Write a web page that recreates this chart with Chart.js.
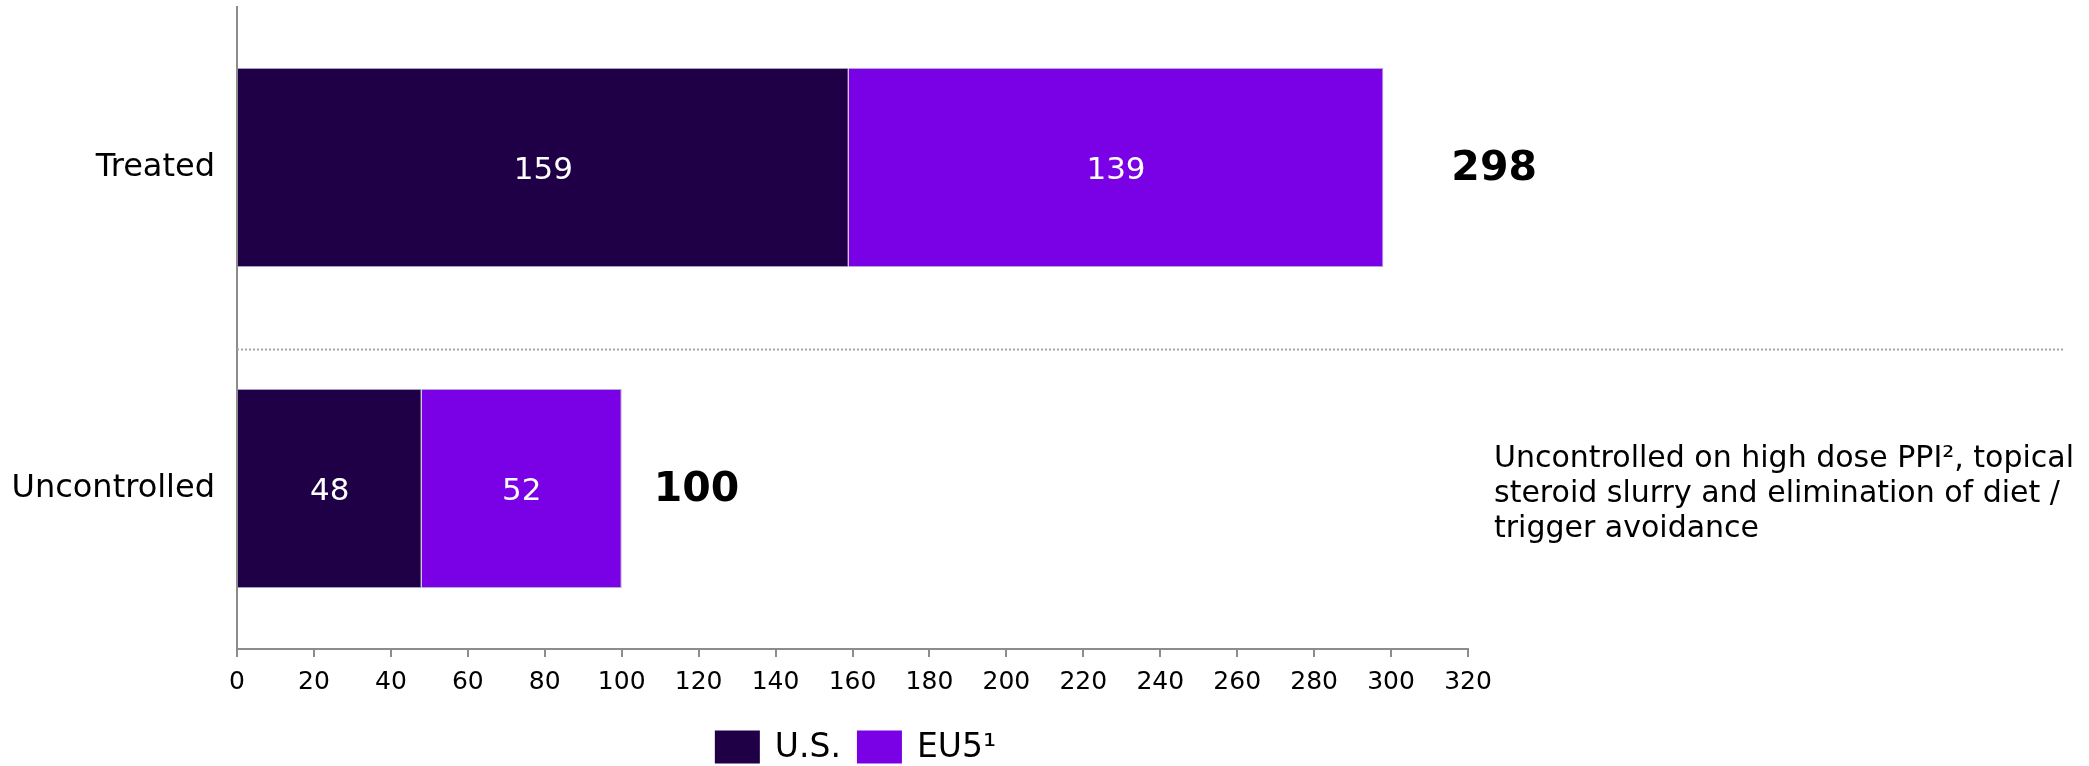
<!DOCTYPE html>
<html lang="en">
<head>
  <meta charset="UTF-8" />
  <title>Treated vs Uncontrolled</title>
  <script src="https://cdn.jsdelivr.net/npm/chart.js"></script>
  <style>
    body {
      margin: 0;
      background: #ffffff;
    }
    #wrap {
      width: 2089px;
      height: 766px;
    }
  </style>
</head>
<body>
  <div id="wrap">
    <canvas id="chart" width="2089" height="766"></canvas>
  </div>

  <script>
    // Data
    const categories = ['Treated', 'Uncontrolled'];
    const usValues = [159, 48];
    const eu5Values = [139, 52];
    const totals = [298, 100];
    const seriesLabels = ['U.S.', 'EU5\u00b9'];
    const axisMax = 320;
    const axisStep = 20;
    const noteLines = [
      'Uncontrolled on high dose PPI\u00b2, topical',
      'steroid slurry and elimination of diet /',
      'trigger avoidance'
    ];

    const FONT = '"DejaVu Sans", Verdana, sans-serif';
    const colors = ['#1f0047', '#7a00e6'];

    // numbers inside the segments, totals, separator, note and legend
    const extras = {
      id: 'extras',
      afterDatasetsDraw(chart, args, opts) {
        const ctx = chart.ctx;
        const x = chart.scales.x;
        const y = chart.scales.y;
        const area = chart.chartArea;
        ctx.save();

        // segment values
        ctx.font = '31px ' + FONT;
        ctx.fillStyle = '#ffffff';
        ctx.textAlign = 'center';
        ctx.textBaseline = 'middle';
        chart.data.datasets.forEach((ds, di) => {
          chart.getDatasetMeta(di).data.forEach((bar, i) => {
            ctx.fillText(String(ds.data[i]), (bar.x + bar.base) / 2, bar.y + 3);
          });
        });

        // totals
        ctx.font = 'bold 41px ' + FONT;
        ctx.fillStyle = '#000000';
        ctx.textAlign = 'left';
        totals.forEach((t, i) => {
          ctx.fillText(String(t), x.getPixelForValue(t) + opts.totalGap[i], y.getPixelForValue(i) + 2);
        });

        // dotted separator
        const sy = Math.round(y.getPixelForValue(opts.separatorAt)) + 0.5;
        ctx.strokeStyle = '#a6a6a6';
        ctx.lineWidth = 2;
        ctx.setLineDash([2, 2]);
        ctx.beginPath();
        ctx.moveTo(area.left, sy);
        ctx.lineTo(chart.width - 24, sy);
        ctx.stroke();
        ctx.setLineDash([]);

        // note beside Uncontrolled
        ctx.font = '30px ' + FONT;
        ctx.fillStyle = '#000000';
        ctx.textBaseline = 'middle';
        const ny = y.getPixelForValue(1) + 6;
        noteLines.forEach((line, i) => {
          ctx.fillText(line, area.right + 26, ny + (i - 1) * 35);
        });

        // legend centred under the plot
        ctx.font = '33px ' + FONT;
        const boxW = 45, boxH = 33, gapIn = 15, gapOut = 16;
        let total = 0;
        seriesLabels.forEach((lab, i) => {
          total += boxW + gapIn + ctx.measureText(lab).width + (i < seriesLabels.length - 1 ? gapOut : 0);
        });
        let lx = (area.left + area.right) / 2 - total / 2 + 3;
        const ly = 747;
        seriesLabels.forEach((lab, i) => {
          ctx.fillStyle = colors[i];
          ctx.fillRect(lx, ly - boxH / 2, boxW, boxH);
          lx += boxW + gapIn;
          ctx.fillStyle = '#000000';
          ctx.fillText(lab, lx, ly + 1);
          lx += ctx.measureText(lab).width + gapOut;
        });

        ctx.restore();
      }
    };

    new Chart(document.getElementById('chart'), {
      type: 'bar',
      data: {
        labels: categories,
        datasets: [
          {
            label: seriesLabels[0],
            data: usValues,
            backgroundColor: colors[0],
            borderColor: '#a89cc0',
            borderWidth: 1,
            barPercentage: 0.62,
            categoryPercentage: 1
          },
          {
            label: seriesLabels[1],
            data: eu5Values,
            backgroundColor: colors[1],
            borderColor: '#b9a6d9',
            borderWidth: 1,
            barPercentage: 0.62,
            categoryPercentage: 1
          }
        ]
      },
      options: {
        indexAxis: 'y',
        responsive: false,
        animation: false,
        devicePixelRatio: 1,
        layout: {
          padding: { top: 7, right: 621, left: 0, bottom: 0 }
        },
        scales: {
          x: {
            stacked: true,
            min: 0,
            max: axisMax,
            ticks: {
              stepSize: axisStep,
              color: '#000000',
              font: { family: FONT, size: 25 },
              padding: 10
            },
            grid: {
              drawOnChartArea: false,
              drawTicks: true,
              tickLength: 8,
              color: '#8c8c8c',
              lineWidth: 2
            },
            border: { display: true, color: '#8c8c8c', width: 2 },
            afterFit: s => { s.height = 117; }
          },
          y: {
            stacked: true,
            ticks: {
              color: '#000000',
              font: { family: FONT, size: 32 },
              padding: 14
            },
            grid: { display: false },
            border: { display: true, color: '#8c8c8c', width: 2 },
            afterFit: s => {
              s.width = 237;
              s.paddingTop = 0;
              s.paddingBottom = 0;
            }
          }
        },
        plugins: {
          legend: { display: false },
          tooltip: { enabled: false },
          extras: {
            totalGap: [68, 32],
            separatorAt: 0.565
          }
        }
      },
      plugins: [extras]
    });
  </script>
</body>
</html>
